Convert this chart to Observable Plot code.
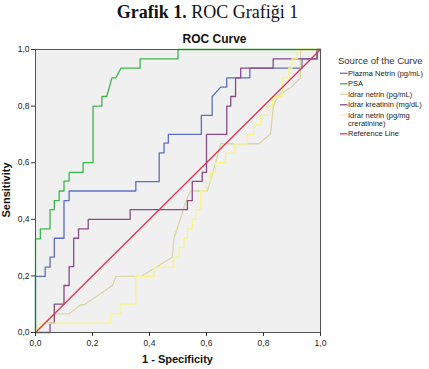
<!DOCTYPE html>
<html>
<head>
<meta charset="utf-8">
<script src="https://cdn.jsdelivr.net/npm/d3@7"></script>
<script src="https://cdn.jsdelivr.net/npm/@observablehq/plot@0.6"></script>
<style>
  html, body { margin: 0; padding: 0; background: #fff; }
  #title { height: 25px; position: relative; font-family: "Liberation Serif", "Times New Roman", serif; font-size: 18px; color: #111; }
  #title span.t { position: absolute; left: 0; width: 415px; text-align: center; top: 2px; white-space: nowrap; }
  #chart svg { display: block; }
</style>
</head>
<body>
<div id="title"><span class="t"><b>Grafik 1.</b> ROC Grafiği 1</span></div>
<div id="chart"></div>
<script>
// ROC curves: [1 - specificity, sensitivity] per marker
const plazmaNetrin = [[0,0],[0,0.198],[0.034,0.198],[0.034,0.231],[0.051,0.231],[0.051,0.266],[0.066,0.266],[0.066,0.333],[0.10,0.333],[0.10,0.466],[0.118,0.466],[0.118,0.50],[0.352,0.50],[0.352,0.533],[0.434,0.533],[0.434,0.635],[0.451,0.635],[0.451,0.669],[0.466,0.669],[0.466,0.70],[0.582,0.70],[0.582,0.767],[0.62,0.767],[0.62,0.834],[0.65,0.867],[0.671,0.867],[0.671,0.90],[0.752,0.90],[0.752,0.934],[0.935,0.934],[0.935,0.967],[0.988,0.967],[0.988,1],[1,1]];
const psa = [[0,0],[0,0.331],[0.017,0.331],[0.017,0.366],[0.051,0.366],[0.051,0.434],[0.066,0.434],[0.066,0.466],[0.083,0.466],[0.083,0.50],[0.10,0.50],[0.10,0.535],[0.118,0.535],[0.118,0.566],[0.167,0.566],[0.167,0.60],[0.202,0.60],[0.202,0.80],[0.233,0.80],[0.233,0.834],[0.25,0.834],[0.268,0.90],[0.282,0.90],[0.30,0.934],[0.367,0.934],[0.367,0.967],[0.50,0.967],[0.50,1.0],[1,1]];
const idrarNetrin = [[0,0],[0.066,0.066],[0.118,0.066],[0.159,0.098],[0.171,0.098],[0.27,0.166],[0.282,0.198],[0.37,0.198],[0.48,0.266],[0.486,0.333],[0.533,0.478],[0.545,0.50],[0.603,0.50],[0.618,0.55],[0.65,0.667],[0.784,0.667],[0.825,0.702],[0.834,0.796],[0.85,0.837],[0.895,0.865],[0.93,0.90],[0.93,1.0],[1,1]];
const idrarKreatinin = [[0,0],[0.051,0],[0.051,0.033],[0.066,0.033],[0.066,0.10],[0.10,0.10],[0.10,0.166],[0.118,0.166],[0.118,0.233],[0.134,0.233],[0.134,0.333],[0.151,0.333],[0.151,0.366],[0.185,0.366],[0.185,0.40],[0.332,0.40],[0.332,0.434],[0.533,0.434],[0.533,0.466],[0.55,0.466],[0.55,0.534],[0.585,0.534],[0.585,0.566],[0.60,0.566],[0.60,0.70],[0.671,0.70],[0.671,0.80],[0.685,0.80],[0.685,0.834],[0.702,0.834],[0.702,0.90],[0.72,0.90],[0.72,0.934],[0.834,0.934],[0.834,0.967],[0.988,0.967],[0.988,1],[1,1]];
const idrarNetrinKreatinin = [[0,0],[0.017,0.033],[0.264,0.033],[0.264,0.066],[0.30,0.066],[0.30,0.10],[0.352,0.10],[0.352,0.198],[0.416,0.198],[0.416,0.231],[0.486,0.231],[0.486,0.266],[0.504,0.266],[0.504,0.30],[0.521,0.30],[0.521,0.333],[0.533,0.333],[0.533,0.366],[0.55,0.366],[0.55,0.40],[0.562,0.40],[0.562,0.434],[0.58,0.434],[0.58,0.50],[0.597,0.50],[0.597,0.534],[0.615,0.534],[0.615,0.566],[0.632,0.566],[0.632,0.60],[0.667,0.60],[0.667,0.634],[0.70,0.634],[0.70,0.667],[0.743,0.667],[0.743,0.70],[0.766,0.70],[0.766,0.734],[0.79,0.734],[0.79,0.767],[0.813,0.767],[0.813,0.80],[0.831,0.80],[0.831,0.834],[0.866,0.834],[0.866,0.90],[0.889,0.90],[0.889,0.934],[0.90,0.934],[0.90,0.967],[0.918,0.967],[0.918,1],[1,1]];
const referenceLine = [[0,0],[1,1]];

const legendLabels = [["Plazma Netrin (pg/mL)"], ["PSA"], ["İdrar netrin (pg/mL)"], ["İdrar kreatinin (mg/dL)"], ["İdrar netrin (pg/mg", "creratinine)"], ["Reference Line"]];
const seriesColors = ["#5d6fbf", "#3cb84a", "#d9d6a8", "#8a4a86", "#f8f48a", "#e0334f"];
const seriesData = [plazmaNetrin, psa, idrarNetrin, idrarKreatinin, idrarNetrinKreatinin, referenceLine];
const ticks = [0, 0.2, 0.4, 0.6, 0.8, 1.0];
const fmt = d => d.toFixed(1).replace(".", ",");

const W = 429, H = 344;
const font = "Liberation Sans, Arial, sans-serif";

const lines = seriesData.map((data, i) =>
  Plot.line(data, {x: d => d[0], y: d => d[1], stroke: seriesColors[i], strokeWidth: 1.3, curve: "linear"})
);

const plot = Plot.plot({
  width: W,
  height: H,
  marginTop: 24,
  marginBottom: 37,
  marginLeft: 35,
  marginRight: 109,
  style: {fontFamily: font, fontSize: "8.5px", color: "#222", background: "transparent"},
  x: {domain: [0, 1]},
  y: {domain: [0, 1]},
  marks: [
    Plot.frame({fill: "#f0f0f0"}),
    ...lines,
    Plot.frame({stroke: "#555", strokeWidth: 1}),
    Plot.axisX({ticks, tickFormat: fmt, tickSize: 4, tickPadding: 3, label: null, stroke: "#333"}),
    Plot.axisY({ticks, tickFormat: fmt, tickSize: 4, tickPadding: 2, label: null, stroke: "#333"})
  ]
});

document.getElementById("chart").appendChild(plot);

// chart headings, axis titles and the legend, laid on top of the plot's SVG
const svg = d3.select(plot);
svg.append("text").attr("x", 214.5).attr("y", 17.7).attr("text-anchor", "middle")
  .style("font", `bold 12px ${font}`).attr("fill", "#111").text("ROC Curve");
svg.append("text").attr("x", 177.5).attr("y", 338).attr("text-anchor", "middle")
  .style("font", `bold 11px ${font}`).attr("fill", "#111").text("1 - Specificity");
svg.append("text").attr("transform", `translate(10,165) rotate(-90)`).attr("text-anchor", "middle")
  .style("font", `bold 11px ${font}`).attr("fill", "#111").text("Sensitivity");

const legend = svg.append("g").attr("transform", "translate(338,0)").attr("text-anchor", "start");
legend.append("text").attr("x", 0).attr("y", 38.5).attr("text-anchor", "start")
  .style("font", `9.5px ${font}`).attr("fill", "#333").text("Source of the Curve");
let yy = 48.3;
legendLabels.forEach((lab, i) => {
  legend.append("line").attr("x1", 2).attr("x2", 9.5).attr("y1", yy).attr("y2", yy)
    .attr("stroke", seriesColors[i]).attr("stroke-width", 1.3);
  lab.forEach((t, j) => {
    legend.append("text").attr("x", 10).attr("y", yy + 2.6 + j * 8).attr("text-anchor", "start")
      .style("font", `7.5px ${font}`).attr("fill", "#222").text(t);
  });
  yy += 10.5 + (lab.length - 1) * 8;
});
</script>
</body>
</html>
